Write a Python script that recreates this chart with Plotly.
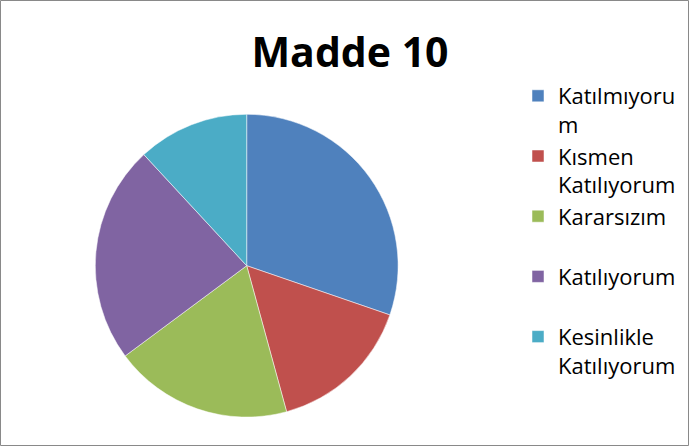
import plotly.graph_objects as go

labels = ["Katılmıyoru<br>m", "Kısmen<br>Katılıyorum", "Kararsızım<br> ", "Katılıyorum<br> ", "Kesinlikle<br>Katılıyorum"]
values = [30.3, 15.5, 19.1, 23.3, 11.9]
colors = ["#4F81BD", "#C0504D", "#9BBB59", "#8064A2", "#4BACC6"]
title_text = "Madde 10"

W, H = 689, 446
cx, cy, r = 246.7, 265.7, 151.4

fig = go.Figure(go.Pie(
    labels=labels,
    values=values,
    sort=False,
    direction="clockwise",
    rotation=0,
    textinfo="none",
    hoverinfo="label+percent",
    marker=dict(colors=colors, line=dict(color="white", width=0.5)),
    domain=dict(x=[(cx - r) / W, (cx + r) / W],
                y=[(H - cy - r) / H, (H - cy + r) / H]),
))

fig.update_layout(
    width=W, height=H,
    margin=dict(l=0, r=0, t=0, b=0),
    paper_bgcolor="white",
    font=dict(family="Open Sans", color="black"),
    title=dict(text="<b>" + title_text + "</b>", x=350 / W, xanchor="center",
               y=1 - 53 / H, yanchor="middle",
               font=dict(family="Open Sans", size=41, color="black")),
    legend=dict(x=518 / W, xanchor="left", y=1 - 75 / H, yanchor="top",
                font=dict(family="Open Sans", size=22, color="black"),
                valign="top", bgcolor="rgba(0,0,0,0)"),
    shapes=[dict(type="rect", xref="paper", yref="paper",
                 x0=0.5 / W, x1=1 - 0.5 / W, y0=0.5 / H, y1=1 - 0.5 / H,
                 line=dict(color="#898989", width=1))],
)

fig.write_html("out.html", config={"displayModeBar": False},
               post_script="document.body.style.margin='0';document.body.style.overflow='hidden';")
